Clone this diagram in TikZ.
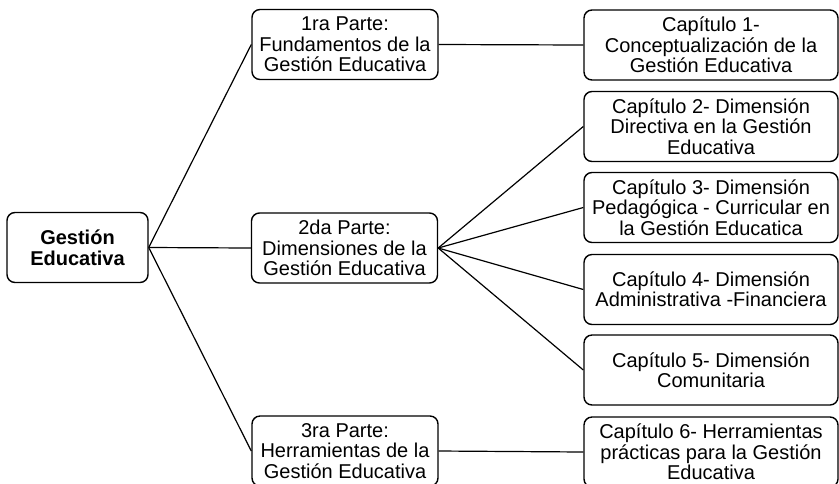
\documentclass[tikz,border=0pt]{standalone}
\usepackage{fontspec}
\setmainfont{Liberation Sans}
\usetikzlibrary{positioning}
\tikzset{>=latex}
\tikzset{
  caja/.style={draw, rounded corners=4pt, line width=0.7pt, align=center,
    minimum height=35pt, inner sep=1pt, font=\fontsize{10}{10.2}\selectfont},
  raiz/.style={caja, minimum width=70.5pt, font=\fontsize{10}{10.4}\selectfont\bfseries},
  parte/.style={caja, minimum width=93pt},
  capitulo/.style={caja, minimum width=127pt},
  rama/.style={line width=0.6pt}
}

\begin{document}
\begin{tikzpicture}[x=0.5pt,y=-0.5pt]
    \useasboundingbox (0,0) rectangle (839,483);
    % raiz
    \node [raiz] (ge) at (77.5,247.5) {Gesti\'on\\Educativa};
    % partes
    \node [parte] (p1) at (345,44.5) {1ra Parte:\\Fundamentos de la\\Gesti\'on Educativa};
    \node [parte] (p2) at (344.5,248) {2da Parte:\\Dimensiones de la\\Gesti\'on Educativa};
    \node [parte] (p3) at (345,451) {3ra Parte:\\Herramientas de la\\Gesti\'on Educativa};
    % capitulos
    \node [capitulo] (c1) at (711,45) {Cap\'itulo 1-\\Conceptualizaci\'on de la\\Gesti\'on Educativa};
    \node [capitulo] (c2) at (711,126.5) {Cap\'itulo 2- Dimensi\'on\\Directiva en la Gesti\'on\\Educativa};
    \node [capitulo] (c3) at (711,207.5) {Cap\'itulo 3- Dimensi\'on\\Pedag\'ogica - Curricular en\\la Gesti\'on Educatica};
    \node [capitulo] (c4) at (711,289.5) {Cap\'itulo 4- Dimensi\'on\\Administrativa -Financiera};
    \node [capitulo] (c5) at (711,370) {Cap\'itulo 5- Dimensi\'on\\Comunitaria};
    \node [capitulo] (c6) at (711,452) {Cap\'itulo 6- Herramientas\\pr\'acticas para la Gesti\'on\\Educativa};
    % ramas
    \draw [rama] (ge.east) -- (p1.west);
    \draw [rama] (ge.east) -- (p2.west);
    \draw [rama] (ge.east) -- (p3.west);
    \draw [rama] (p1.east) -- (c1.west);
    \draw [rama] (p2.east) -- (c2.west);
    \draw [rama] (p2.east) -- (c3.west);
    \draw [rama] (p2.east) -- (c4.west);
    \draw [rama] (p2.east) -- (c5.west);
    \draw [rama] (p3.east) -- (c6.west);
  \end{tikzpicture}
\end{document}
